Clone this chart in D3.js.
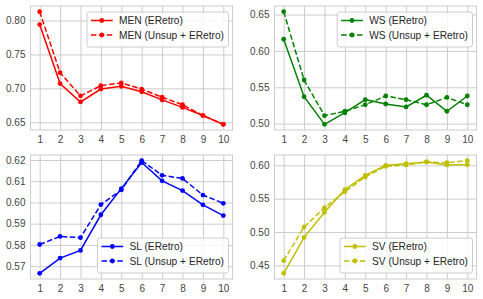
<!DOCTYPE html>
<html>
<head>
<meta charset="utf-8">
<script src="https://cdnjs.cloudflare.com/ajax/libs/d3/7.8.5/d3.min.js"></script>
<style>
  body { margin: 0; background: #fff; }
  svg { display: block; font-family: "Liberation Sans", Arial, sans-serif; }
</style>
</head>
<body>
<svg id="chart" width="483" height="299"></svg>
<script>
// --- data ---
var iterations = [1, 2, 3, 4, 5, 6, 7, 8, 9, 10];

var menERetro = [0.794, 0.707, 0.680, 0.699, 0.703, 0.695, 0.683, 0.672, 0.660, 0.647];
var menUnsup  = [0.813, 0.723, 0.689, 0.704, 0.708, 0.699, 0.687, 0.676, 0.660, 0.647];

var wsERetro = [0.616, 0.537, 0.499, 0.515, 0.533, 0.527, 0.523, 0.539, 0.517, 0.538];
var wsUnsup  = [0.654, 0.560, 0.511, 0.517, 0.526, 0.538, 0.533, 0.526, 0.536, 0.526];

var slERetro = [0.5666, 0.5738, 0.5774, 0.5942, 0.6065, 0.6188, 0.6102, 0.6056, 0.5989, 0.5938];
var slUnsup  = [0.5802, 0.5840, 0.5834, 0.5990, 0.6059, 0.6197, 0.6128, 0.6113, 0.6035, 0.5996];

var svERetro = [0.438, 0.492, 0.5295, 0.5635, 0.585, 0.600, 0.6025, 0.605, 0.6005, 0.601];
var svUnsup  = [0.457, 0.5075, 0.5365, 0.5605, 0.5825, 0.5985, 0.6005, 0.605, 0.604, 0.607];

var menTicks = [0.65, 0.70, 0.75, 0.80];
var wsTicks  = [0.50, 0.55, 0.60, 0.65];
var slTicks  = [0.57, 0.58, 0.59, 0.60, 0.61, 0.62];
var svTicks  = [0.45, 0.50, 0.55, 0.60];

var panels = [
  { name: 'MEN', a: menERetro, b: menUnsup, ticks: menTicks, color: '#ff0000', col: 0, row: 0, legend: 'top' },
  { name: 'WS',  a: wsERetro,  b: wsUnsup,  ticks: wsTicks,  color: '#008000', col: 1, row: 0, legend: 'top' },
  { name: 'SL',  a: slERetro,  b: slUnsup,  ticks: slTicks,  color: '#0000ff', col: 0, row: 1, legend: 'bottom' },
  { name: 'SV',  a: svERetro,  b: svUnsup,  ticks: svTicks,  color: '#bfbf00', col: 1, row: 1, legend: 'bottom' }
];

// --- layout ---
var colLeft = [30.5, 274.5];
var rowTop = [6, 155];
var pw = 202, ph = 124;
var gridColor = '#cccccc';
var tickColor = '#444';
var dash = '5.5,2.4';

var svg = d3.select('#chart');

panels.forEach(function(p) {
  var g = svg.append('g')
    .attr('transform', 'translate(' + colLeft[p.col] + ',' + rowTop[p.row] + ')');

  var x = d3.scaleLinear().domain([0.55, 10.45]).range([0, pw]);
  var all = p.a.concat(p.b);
  var lo = d3.min(all), hi = d3.max(all), pad = (hi - lo) * 0.05;
  var y = d3.scaleLinear().domain([lo - pad, hi + pad]).range([ph, 0]);

  // grid
  var xAxis = d3.axisBottom(x).tickValues(iterations).tickSize(-ph).tickPadding(6).tickFormat(d3.format('d'));
  var yAxis = d3.axisLeft(y).tickValues(p.ticks).tickSize(-pw).tickPadding(5).tickFormat(d3.format('.2f'));

  var gx = g.append('g').attr('transform', 'translate(0,' + ph + ')').call(xAxis);
  var gy = g.append('g').call(yAxis);
  [gx, gy].forEach(function(ax) {
    ax.select('.domain').remove();
    ax.selectAll('line').attr('stroke', gridColor).attr('stroke-width', 1);
    ax.selectAll('text').attr('fill', tickColor).style('font-size', '10px')
      .style('font-family', '"Liberation Sans", Arial, sans-serif');
  });
  gx.selectAll('text').attr('dy', '0.71em');

  g.append('rect').attr('width', pw).attr('height', ph)
    .attr('fill', 'none').attr('stroke', gridColor).attr('stroke-width', 1);

  var line = d3.line().x(function(d, i) { return x(iterations[i]); }).y(function(d) { return y(d); });

  [[p.a, null], [p.b, dash]].forEach(function(s) {
    g.append('path').datum(s[0])
      .attr('d', line)
      .attr('fill', 'none')
      .attr('stroke', p.color)
      .attr('stroke-width', 1.5)
      .attr('stroke-dasharray', s[1]);
    g.selectAll(null).data(s[0]).enter().append('circle')
      .attr('cx', function(d, i) { return x(iterations[i]); })
      .attr('cy', function(d) { return y(d); })
      .attr('r', 2.4)
      .attr('fill', p.color);
  });

  // --- legend ---
  var labels = [p.name + ' (ERetro)', p.name + ' (Unsup + ERetro)'];
  var lg = g.append('g');
  var box = lg.append('rect');
  var texts = lg.selectAll('text').data(labels).enter().append('text')
    .attr('x', 32)
    .attr('y', function(d, i) { return 8.5 + i * 14.5; })
    .attr('dy', '0.35em')
    .attr('fill', '#262626')
    .style('font-size', '10.2px')
    .text(function(d) { return d; });
  var tw = d3.max(texts.nodes(), function(n) { return n.getComputedTextLength(); });
  var bw = 32 + tw + 4.5, bh = 35;
  box.attr('width', bw).attr('height', bh).attr('rx', 2.5)
    .attr('fill', 'rgba(255,255,255,0.8)').attr('stroke', gridColor).attr('stroke-width', 1);
  labels.forEach(function(l, i) {
    var ly = 8.5 + i * 14.5;
    lg.append('line').attr('x1', 4).attr('x2', 25.7).attr('y1', ly).attr('y2', ly)
      .attr('stroke', p.color).attr('stroke-width', 1.5)
      .attr('stroke-dasharray', i ? dash : null);
    lg.append('circle').attr('cx', 14.8).attr('cy', ly).attr('r', 2.4).attr('fill', p.color);
  });
  var lx = pw - 4 - bw;
  var ly0 = p.legend === 'top' ? 6 : ph - 6 - bh;
  lg.attr('transform', 'translate(' + lx + ',' + ly0 + ')');
});
</script>
</body>
</html>
